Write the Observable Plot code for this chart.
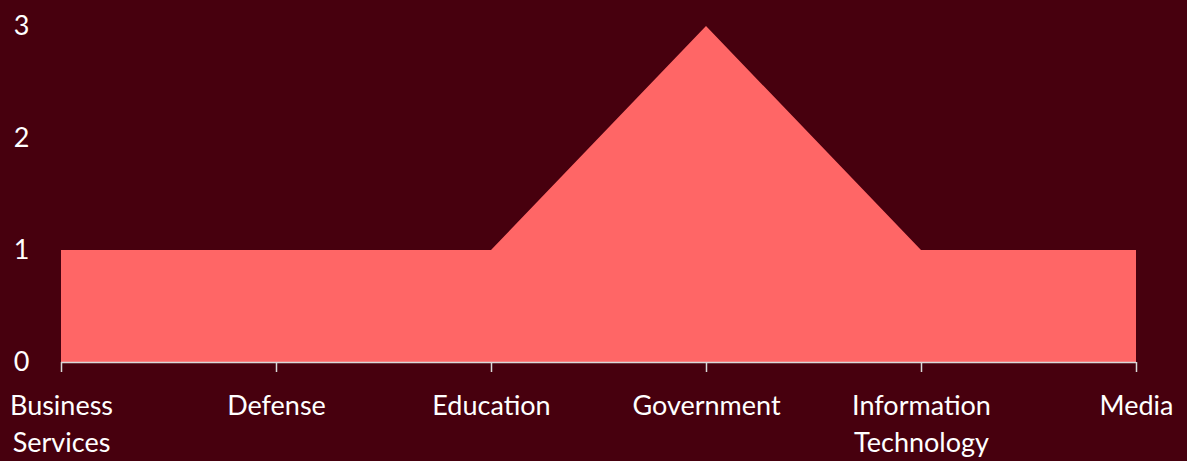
<!DOCTYPE html>
<html>
<head>
<meta charset="utf-8">
<script src="https://cdn.jsdelivr.net/npm/d3@7"></script>
<script src="https://cdn.jsdelivr.net/npm/@observablehq/plot@0.6"></script>
<style>
  html, body { margin: 0; padding: 0; background: #47000e; }
  #chart { width: 1187px; height: 461px; overflow: hidden; }
</style>
</head>
<body>
<div id="chart"></div>
<script>
const categories = ["Business Services", "Defense", "Education", "Government", "Information Technology", "Media"];
const values = [1, 1, 1, 3, 1, 1];
const yTicks = [0, 1, 2, 3];

const data = categories.map((c, i) => ({category: c, value: values[i]}));

const chart = Plot.plot({
  width: 1187,
  height: 461,
  marginLeft: 61,
  marginRight: 51,
  marginTop: 26,
  marginBottom: 99,
  style: {background: "#47000e", color: "#ffffff", fontFamily: "Lato, 'Open Sans', sans-serif", fontSize: "27px"},
  x: {type: "point", domain: categories, padding: 0, label: null},
  y: {domain: [0, 3], label: null},
  marks: [
    Plot.areaY(data, {x: "category", y: "value", fill: "#ff6666", curve: "linear"}),
    Plot.ruleY([0], {stroke: "#d9d9d9", strokeWidth: 1.5}),
    Plot.axisX({tickSize: 10, tickPadding: 16, stroke: "#d9d9d9", strokeWidth: 1.5, strokeOpacity: 1, fill: "#ffffff", fontSize: 27, lineHeight: 1.38,
      label: null, tickFormat: d => d.replace(" ", "\n")}),
    Plot.axisY({ticks: yTicks, tickSize: 0, tickPadding: 32, fill: "#ffffff", fontSize: 27, label: null, tickFormat: d => String(d)})
  ]
});
document.getElementById("chart").appendChild(chart);
</script>
</body>
</html>
